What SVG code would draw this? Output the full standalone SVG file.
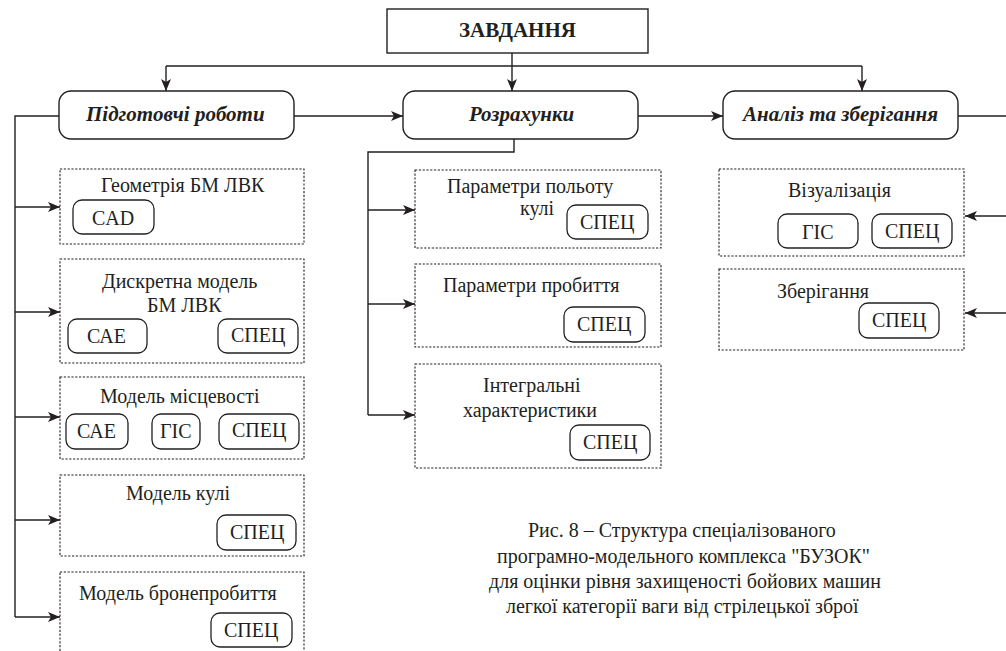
<svg xmlns="http://www.w3.org/2000/svg" width="1006" height="651" viewBox="0 0 1006 651">
<style>
.main{fill:#fff;stroke:#231f20;stroke-width:1.4}
.dash{fill:none;stroke:#231f20;stroke-width:1.1;stroke-dasharray:2.2,1.6}
.pill{fill:#fff;stroke:#231f20;stroke-width:1.3}
.ln{fill:none;stroke:#231f20;stroke-width:1.4}
</style>
<defs>
<marker id="ar" viewBox="0 0 12 10" refX="12" refY="5" markerWidth="12" markerHeight="10" markerUnits="userSpaceOnUse" orient="auto">
<path d="M0,0 L12,5 L0,10 L3,5 z" fill="#231f20"/>
</marker>
</defs>
<rect fill="#fff" width="1006" height="651"/>

<g id="connectors">
<path class="ln" d="M512,53 V91" marker-end="url(#ar)"/>
<path class="ln" d="M166,66 H862"/>
<path class="ln" d="M166,66 V91" marker-end="url(#ar)"/>
<path class="ln" d="M862,66 V91" marker-end="url(#ar)"/>
<path class="ln" d="M294,116 H403" marker-end="url(#ar)"/>
<path class="ln" d="M638,116 H723" marker-end="url(#ar)"/>
<path class="ln" d="M958,116 H1006"/>
<path class="ln" d="M59,116 H15 V617"/>
<path class="ln" d="M15,207 H60" marker-end="url(#ar)"/>
<path class="ln" d="M15,312 H60" marker-end="url(#ar)"/>
<path class="ln" d="M15,417 H60" marker-end="url(#ar)"/>
<path class="ln" d="M15,520 H60" marker-end="url(#ar)"/>
<path class="ln" d="M15,617 H60" marker-end="url(#ar)"/>
<path class="ln" d="M514,139 V152 H368 V415"/>
<path class="ln" d="M368,210 H415" marker-end="url(#ar)"/>
<path class="ln" d="M368,304 H415" marker-end="url(#ar)"/>
<path class="ln" d="M368,415 H415" marker-end="url(#ar)"/>
<path class="ln" d="M1006,216 H965" marker-end="url(#ar)"/>
<path class="ln" d="M1006,313 H965" marker-end="url(#ar)"/>
</g>

<g fill="#231f20">
<g id="zavdannya">
<rect class="main" x="387" y="9" width="261" height="44"/>
<text x="459" y="37" style="font-family:'Liberation Serif',serif;font-size:21px;font-weight:bold">ЗАВДАННЯ</text>
</g>
<g id="pidgotovchi">
<rect class="main" x="59" y="91" width="235" height="48" rx="12"/>
<text x="86" y="121" style="font-family:'Liberation Serif',serif;font-size:21px;font-weight:bold;font-style:italic">Підготовчі роботи</text>
</g>
<g id="rozrakhunky">
<rect class="main" x="403" y="91" width="235" height="48" rx="12"/>
<text x="469" y="121" style="font-family:'Liberation Serif',serif;font-size:21px;font-weight:bold;font-style:italic">Розрахунки</text>
</g>
<g id="analiz">
<rect class="main" x="723" y="91" width="235" height="48" rx="12"/>
<text x="743" y="121" style="font-family:'Liberation Serif',serif;font-size:21px;font-weight:bold;font-style:italic">Аналіз та зберігання</text>
</g>

<g id="geometriya">
<rect class="dash" x="60" y="169" width="244" height="75"/>
<text x="101" y="192" style="font-family:'Liberation Serif',serif;font-size:20px">Геометрія БМ ЛВК</text>
<rect class="pill" x="73" y="200" width="81" height="34" rx="9"/>
<text x="92" y="225" style="font-family:'Liberation Serif',serif;font-size:20px">CAD</text>
</g>
<g id="dyskretna">
<rect class="dash" x="60" y="259" width="244" height="104"/>
<text x="102" y="288" style="font-family:'Liberation Serif',serif;font-size:20px">Дискретна модель</text>
<text x="147" y="312" style="font-family:'Liberation Serif',serif;font-size:20px">БМ ЛВК</text>
<rect class="pill" x="68" y="319" width="79" height="34" rx="9"/>
<text x="87" y="343" style="font-family:'Liberation Serif',serif;font-size:20px">САЕ</text>
<rect class="pill" x="218" y="319" width="80" height="34" rx="9"/>
<text x="231" y="342" style="font-family:'Liberation Serif',serif;font-size:20px">СПЕЦ</text>
</g>
<g id="mistsevist">
<rect class="dash" x="60" y="377" width="244" height="82"/>
<text x="100" y="403" style="font-family:'Liberation Serif',serif;font-size:20px">Модель місцевості</text>
<rect class="pill" x="66" y="414" width="62" height="35" rx="9"/>
<text x="77" y="438" style="font-family:'Liberation Serif',serif;font-size:20px">САЕ</text>
<rect class="pill" x="152" y="414" width="48" height="35" rx="9"/>
<text x="160" y="438" style="font-family:'Liberation Serif',serif;font-size:20px">ГІС</text>
<rect class="pill" x="219" y="414" width="80" height="35" rx="9"/>
<text x="232" y="437" style="font-family:'Liberation Serif',serif;font-size:20px">СПЕЦ</text>
</g>
<g id="kulia">
<rect class="dash" x="60" y="475" width="244" height="81"/>
<text x="126" y="500" style="font-family:'Liberation Serif',serif;font-size:20px">Модель кулі</text>
<rect class="pill" x="217" y="515" width="79" height="35" rx="9"/>
<text x="230" y="539" style="font-family:'Liberation Serif',serif;font-size:20px">СПЕЦ</text>
</g>
<g id="bronieprobyttia">
<rect class="dash" x="60" y="572" width="244" height="90"/>
<text x="79" y="600" style="font-family:'Liberation Serif',serif;font-size:20px">Модель бронепробиття</text>
<rect class="pill" x="211" y="613" width="81" height="34" rx="9"/>
<text x="224" y="637" style="font-family:'Liberation Serif',serif;font-size:20px">СПЕЦ</text>
</g>

<g id="polit">
<rect class="dash" x="415" y="170" width="246" height="78"/>
<text x="447" y="193" style="font-family:'Liberation Serif',serif;font-size:20px">Параметри польоту</text>
<text x="520" y="215" style="font-family:'Liberation Serif',serif;font-size:20px">кулі</text>
<rect class="pill" x="567" y="205" width="81" height="34" rx="9"/>
<text x="580" y="229" style="font-family:'Liberation Serif',serif;font-size:20px">СПЕЦ</text>
</g>
<g id="probyttia">
<rect class="dash" x="415" y="264" width="246" height="83"/>
<text x="443" y="292" style="font-family:'Liberation Serif',serif;font-size:20px">Параметри пробиття</text>
<rect class="pill" x="564" y="307" width="81" height="35" rx="9"/>
<text x="577" y="331" style="font-family:'Liberation Serif',serif;font-size:20px">СПЕЦ</text>
</g>
<g id="intehralni">
<rect class="dash" x="415" y="364" width="246" height="104"/>
<text x="483" y="392" style="font-family:'Liberation Serif',serif;font-size:20px">Інтегральні</text>
<text x="463" y="417" style="font-family:'Liberation Serif',serif;font-size:20px">характеристики</text>
<rect class="pill" x="570" y="425" width="80" height="35" rx="9"/>
<text x="583" y="449" style="font-family:'Liberation Serif',serif;font-size:20px">СПЕЦ</text>
</g>

<g id="vizualizatsiya">
<rect class="dash" x="719" y="169" width="245" height="87"/>
<text x="788" y="197" style="font-family:'Liberation Serif',serif;font-size:20px">Візуалізація</text>
<rect class="pill" x="778" y="214" width="80" height="34" rx="9"/>
<text x="802" y="239" style="font-family:'Liberation Serif',serif;font-size:20px">ГІС</text>
<rect class="pill" x="872" y="214" width="80" height="34" rx="9"/>
<text x="885" y="238" style="font-family:'Liberation Serif',serif;font-size:20px">СПЕЦ</text>
</g>
<g id="zberihannia">
<rect class="dash" x="719" y="269" width="245" height="81"/>
<text x="777" y="298" style="font-family:'Liberation Serif',serif;font-size:20px">Зберігання</text>
<rect class="pill" x="859" y="303" width="80" height="35" rx="9"/>
<text x="872" y="327" style="font-family:'Liberation Serif',serif;font-size:20px">СПЕЦ</text>
</g>

<g id="caption">
<text x="528" y="537" style="font-family:'Liberation Serif',serif;font-size:20px">Рис. 8 – Структура спеціалізованого</text>
<text x="497" y="563" style="font-family:'Liberation Serif',serif;font-size:20px">програмно-модельного комплекса "БУЗОК"</text>
<text x="489" y="588" style="font-family:'Liberation Serif',serif;font-size:20px">для оцінки рівня захищеності бойових машин</text>
<text x="506" y="613" style="font-family:'Liberation Serif',serif;font-size:20px">легкої категорії ваги від стрілецької зброї</text>
</g>
</g>
</svg>
